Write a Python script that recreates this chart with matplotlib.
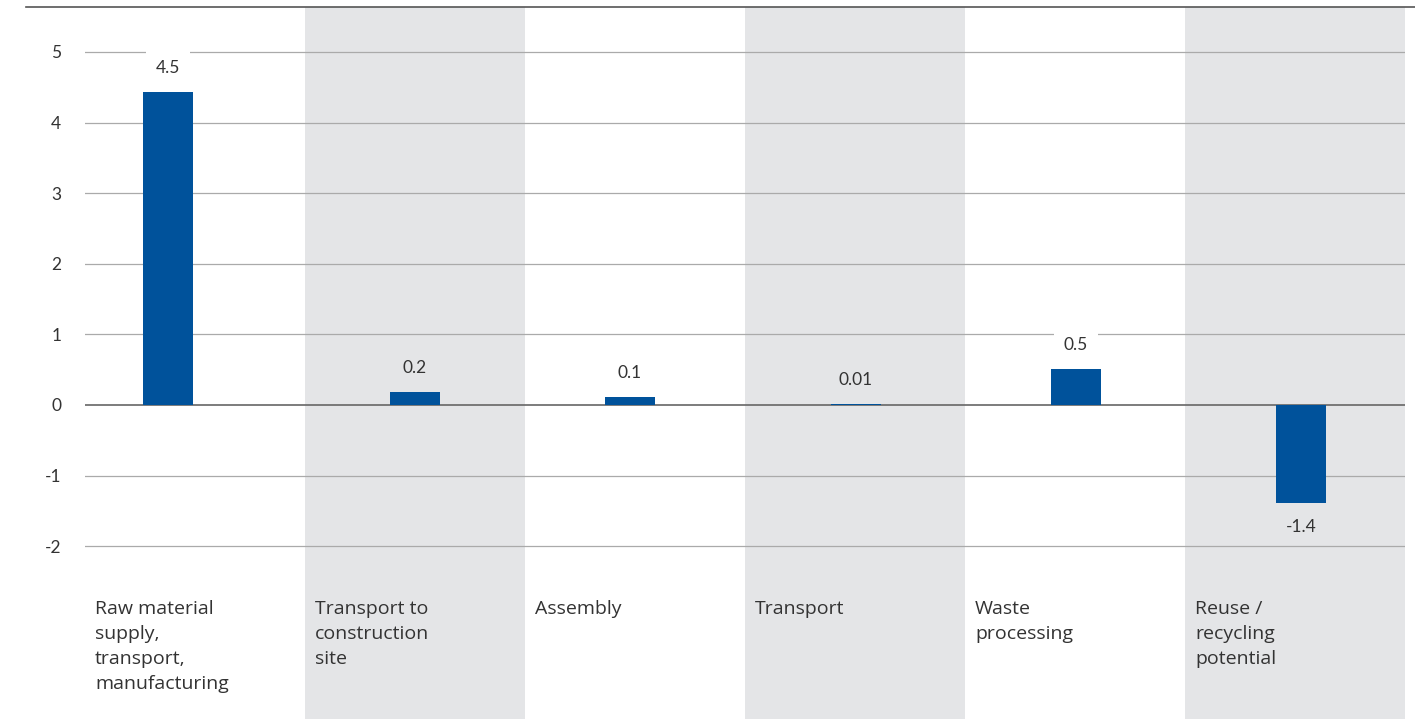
import matplotlib.pyplot as plt
from matplotlib.lines import Line2D

categories = ['Raw material\nsupply,\ntransport,\nmanufacturing',
              'Transport to\nconstruction\nsite',
              'Assembly',
              'Transport',
              'Waste\nprocessing',
              'Reuse /\nrecycling\npotential']
values = [4.43, 0.18, 0.11, 0.01, 0.51, -1.39]
value_labels = ['4.5', '0.2', '0.1', '0.01', '0.5', '-1.4']
yticks = [-2, -1, 0, 1, 2, 3, 4, 5]

bar_color = '#00529b'
band_color = '#e4e5e7'
text_color = '#333333'
# bars are not exactly centred in their columns in the original
bar_shift = [-27 / 220, 0, -5 / 220, 1 / 220, 1 / 220, 6 / 220]

plt.rcParams['font.family'] = ['Lato', 'DejaVu Sans']

fig = plt.figure(figsize=(14.15, 7.19), dpi=100)
ax = fig.add_axes([85 / 1415, 0, 1320 / 1415, 712 / 719])

n = len(categories)
ax.set_xlim(0, n)
ax.set_ylim(-4.448, 5.637)

# alternating grey column bands
for i in range(n):
    if i % 2 == 1:
        ax.axvspan(i, i + 1, color=band_color, lw=0, zorder=0)

for t in yticks:
    if t == 0:
        ax.axhline(t, color='#666666', lw=1.2, zorder=1)
    else:
        ax.axhline(t, color='#aaaaaa', lw=0.9, zorder=1)

x = [i + 0.5 + s for i, s in enumerate(bar_shift)]
ax.bar(x, values, width=50 / 220, color=bar_color, zorder=3)

for i, (xi, v, lab) in enumerate(zip(x, values, value_labels)):
    bg = band_color if i % 2 == 1 else 'white'
    off = 0.34 if v >= 0 else -0.34
    ax.text(xi, v + off, lab, ha='center', va='center', fontsize=12.5,
            color=text_color, zorder=4,
            bbox=dict(facecolor=bg, edgecolor='none', pad=0,
                      boxstyle='square,pad=0.55'))

for i, c in enumerate(categories):
    ax.text(i + 10 / 220, -2.76, c, ha='left', va='top', fontsize=14,
            family=['Open Sans', 'DejaVu Sans'],
            color=text_color, linespacing=1.5)

ax.set_yticks(yticks)
ax.set_yticklabels([str(t) for t in yticks], fontsize=12.5, color=text_color)
ax.tick_params(axis='y', length=0, pad=17)
ax.set_xticks([])
for s in ax.spines.values():
    s.set_visible(False)

# top rule across the figure
fig.add_artist(Line2D([26 / 1415, 1.0], [1 - 7 / 719, 1 - 7 / 719],
                      transform=fig.transFigure, color='#555555', lw=1.2))

fig.savefig('out.png', dpi=100)
